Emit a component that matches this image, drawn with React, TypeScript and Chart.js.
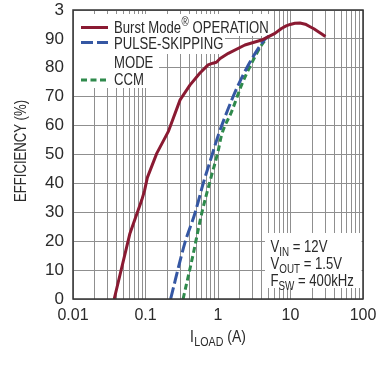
import React, { useEffect, useRef } from 'react';
import { Chart, registerables } from 'chart.js';

Chart.register(...registerables);

// ---- data ----
const burstX = [0.037, 0.061, 0.089, 0.097, 0.106, 0.143, 0.206, 0.30, 0.41, 0.56, 0.73, 0.85, 0.95, 1.07, 1.39, 2.35, 4.0, 6.1, 7.5, 8.7, 9.9, 11.5, 13.5, 16, 18.6, 21, 24.2, 27, 30.3];
const burstY = [0, 22.7, 34.3, 37.5, 42, 50.4, 57.9, 68.9, 74, 78.1, 81, 81.6, 81.9, 83.2, 85, 87.9, 89.6, 91.9, 93.6, 94.5, 95, 95.4, 95.5, 95.1, 94.2, 93.5, 92.5, 91.7, 90.8];

const pulseX = [0.222, 0.35, 0.48, 0.626, 0.82, 1.01, 1.39, 1.9, 2.62, 3.6, 4.4, 5.0];
const pulseY = [0, 19.5, 29.6, 40, 49.5, 56.7, 66, 74, 81, 86.7, 89.8, 90.9];

const ccmX = [0.33, 0.45, 0.596, 0.8, 1.0, 1.12, 1.54, 2.11, 2.9, 4.0, 4.8];
const ccmY = [0, 15, 29.6, 42, 51, 56.7, 64.8, 74, 81.5, 87.9, 90.4];

const xMajorTicks = [0.01, 0.1, 1, 10, 100];
const xMajorLabels = ['0.01', '0.1', '1', '10', '100'];
const yTickLabels = ['0', '10', '20', '30', '40', '50', '60', '70', '80', '90', '3'];

const legendLabels = ['Burst Mode', '\u00AE', ' OPERATION', 'PULSE-SKIPPING', 'MODE', 'CCM'];
const noteLines = [
  ['V', 'IN', ' = 12V'],
  ['V', 'OUT', ' = 1.5V'],
  ['F', 'SW', ' = 400kHz'],
];
const xTitle = ['I', 'LOAD', ' (A)'];
const yTitle = 'EFFICIENCY (%)';

const RED = '#8a1a32';
const BLUE = '#3557a3';
const GREEN = '#2f8a4c';
const TEXT = '#2a2a2a';
const SANS = '"Liberation Sans", Arial, sans-serif';
const SQUEEZE = 0.82;

const toPts = (xs: number[], ys: number[]) => xs.map((x, i) => ({ x, y: ys[i] }));

// draws condensed text, returns advance width
function nText(ctx: CanvasRenderingContext2D, s: string, x: number, y: number, size: number) {
  ctx.save();
  ctx.font = `${size}px ${SANS}`;
  const w = ctx.measureText(s).width * SQUEEZE;
  ctx.translate(x, y);
  ctx.scale(SQUEEZE, 1);
  ctx.fillText(s, 0, 0);
  ctx.restore();
  return w;
}

const overlay = {
  id: 'overlay',
  beforeDatasetsDraw(chart: any) {
    const ctx = chart.ctx;
    const a = chart.chartArea;
    ctx.save();
    ctx.fillStyle = '#ffffff';
    // legend background
    ctx.fillRect(a.left + 1, 14, 273 - a.left, 22);
    ctx.fillRect(a.left + 1, 36, 224 - a.left, 18);
    ctx.fillRect(a.left + 1, 54, 158 - a.left, 34);
    // note background
    ctx.fillRect(265, 233, a.right - 1.5 - 265, 55);
    ctx.restore();
  },
  afterDatasetsDraw(chart: any) {
    const ctx = chart.ctx;
    const a = chart.chartArea;
    ctx.save();
    // frame
    ctx.strokeStyle = '#333';
    ctx.lineWidth = 1.5;
    ctx.strokeRect(a.left, a.top, a.right - a.left, a.bottom - a.top);

    // legend samples
    ctx.lineWidth = 3;
    ctx.strokeStyle = RED;
    ctx.setLineDash([]);
    ctx.beginPath(); ctx.moveTo(81, 27.5); ctx.lineTo(108, 27.5); ctx.stroke();
    ctx.strokeStyle = BLUE;
    ctx.setLineDash([12, 4]);
    ctx.beginPath(); ctx.moveTo(81, 42.5); ctx.lineTo(108, 42.5); ctx.stroke();
    ctx.strokeStyle = GREEN;
    ctx.setLineDash([6, 3.5]);
    ctx.beginPath(); ctx.moveTo(81, 80); ctx.lineTo(108, 80); ctx.stroke();
    ctx.setLineDash([]);

    // legend text
    ctx.fillStyle = TEXT;
    ctx.textBaseline = 'alphabetic';
    ctx.textAlign = 'left';
    let x = 114;
    x += nText(ctx, legendLabels[0], x, 33, 16) + 0.5;
    x += nText(ctx, legendLabels[1], x, 26, 12);
    nText(ctx, legendLabels[2], x, 33, 16);
    nText(ctx, legendLabels[3], 114, 48.5, 16);
    nText(ctx, legendLabels[4], 114, 67.5, 16);
    nText(ctx, legendLabels[5], 114, 85, 16);

    // note text
    const baselines = [252, 269, 286];
    noteLines.forEach((ln, i) => {
      let nx = 270.5;
      nx += nText(ctx, ln[0], nx, baselines[i], 16);
      nx += nText(ctx, ln[1], nx, baselines[i] + 3.5, 12);
      nText(ctx, ln[2], nx, baselines[i], 16);
    });
    ctx.restore();
  },
  afterDraw(chart: any) {
    const ctx = chart.ctx;
    ctx.save();
    ctx.fillStyle = TEXT;
    ctx.textAlign = 'left';
    ctx.textBaseline = 'alphabetic';
    // x title
    let x = 190;
    const by = 342;
    x += nText(ctx, xTitle[0], x, by, 17) + 0.5;
    x += nText(ctx, xTitle[1], x, by + 4, 13);
    nText(ctx, xTitle[2], x, by, 17);
    // y title
    ctx.font = `16px ${SANS}`;
    const w = ctx.measureText(yTitle).width * SQUEEZE;
    ctx.translate(22, 151);
    ctx.rotate(-Math.PI / 2);
    ctx.textBaseline = 'middle';
    nText(ctx, yTitle, -w / 2, 0, 16);
    ctx.restore();
  },
};

export default function App() {
  const ref = useRef<HTMLCanvasElement>(null);
  useEffect(() => {
    document.body.style.margin = '0';
    const canvas = ref.current!;
    const chart = new Chart(canvas, {
      type: 'scatter',
      data: {
        datasets: [
          {
            label: 'Burst Mode OPERATION',
            data: toPts(burstX, burstY),
            showLine: true,
            borderColor: RED,
            borderWidth: 3,
            pointRadius: 0,
            tension: 0,
            borderJoinStyle: 'round',
          },
          {
            label: 'PULSE-SKIPPING MODE',
            data: toPts(pulseX, pulseY),
            showLine: true,
            borderColor: BLUE,
            borderWidth: 3,
            borderDash: [12, 4],
            pointRadius: 0,
            cubicInterpolationMode: 'monotone',
          },
          {
            label: 'CCM',
            data: toPts(ccmX, ccmY),
            showLine: true,
            borderColor: GREEN,
            borderWidth: 3,
            borderDash: [6, 3.5],
            pointRadius: 0,
            cubicInterpolationMode: 'monotone',
          },
        ],
      },
      options: {
        responsive: false,
        animation: false,
        layout: { padding: { top: 10, right: 14, left: 0, bottom: 0 } },
        plugins: { legend: { display: false }, tooltip: { enabled: false } },
        scales: {
          x: {
            type: 'logarithmic',
            min: 0.01,
            max: 100,
            afterBuildTicks: (scale: any) => {
              const t: any[] = [];
              for (let e = -2; e <= 1; e++) {
                for (let m = 1; m <= 9; m++) t.push({ value: m * Math.pow(10, e) });
              }
              t.push({ value: 100 });
              scale.ticks = t;
            },
            afterFit: (scale: any) => {
              scale.height = 66;
              scale.paddingLeft = 0;
              scale.paddingRight = 0;
            },
            grid: { color: '#8f8f8f', lineWidth: 1, drawTicks: false },
            border: { display: false },
            ticks: {
              autoSkip: false,
              maxRotation: 0,
              padding: 7,
              color: TEXT,
              font: { family: SANS, size: 16 },
              callback: (v: any) => {
                const i = xMajorTicks.findIndex((m) => Math.abs(m - v) / m < 1e-6);
                return i >= 0 ? xMajorLabels[i] : '';
              },
            },
          },
          y: {
            min: 0,
            max: 100,
            afterFit: (scale: any) => {
              scale.width = 73;
              scale.paddingTop = 0;
              scale.paddingBottom = 0;
            },
            grid: { color: '#8f8f8f', lineWidth: 1, drawTicks: false },
            border: { display: false },
            ticks: {
              stepSize: 10,
              padding: 9,
              color: TEXT,
              font: { family: SANS, size: 17 },
              callback: (_v: any, i: number) => yTickLabels[i],
            },
          },
        },
      },
      plugins: [overlay],
    } as any);
    return () => chart.destroy();
  }, []);
  return (
    <div style={{ width: 377, height: 365 }}>
      <canvas ref={ref} width={377} height={365} style={{ display: 'block' }} />
    </div>
  );
}
